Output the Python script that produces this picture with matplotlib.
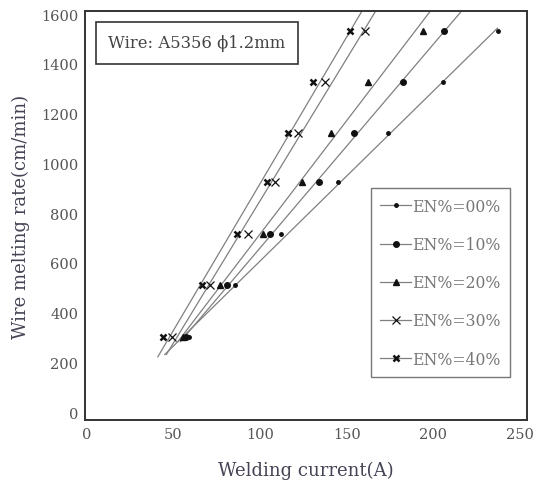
import numpy as np
import matplotlib
matplotlib.use("Agg")
import matplotlib.pyplot as plt

plt.rcParams['font.family'] = ['DejaVu Serif']

# Wire melting rate levels (cm/min)
rate = [300, 510, 715, 925, 1120, 1325, 1530]

# Welding current (A) for each EN ratio
cur_en00 = [59, 85.5, 112, 145, 174, 205.8, 237]
cur_en10 = [57, 81, 106, 134, 154, 182.7, 206]
cur_en20 = [55.5, 77, 101.7, 124, 141, 162, 194]
cur_en30 = [49, 71, 93, 108.7, 122, 137.6, 160.7]
cur_en40 = [44, 66.5, 86.7, 104, 116, 130.6, 152]

labels = ["EN%=00%", "EN%=10%", "EN%=20%", "EN%=30%", "EN%=40%"]
series = [cur_en00, cur_en10, cur_en20, cur_en30, cur_en40]
markers = ['.', 'o', '^', 'x', 'x']
msizes = [5, 4, 4.5, 6, 4]
mews = [1, 1, 1, 0.9, 1.8]

fig = plt.figure(figsize=(5.36, 4.81), dpi=100)
ax = fig.add_axes([0.1586, 0.1247, 0.8246, 0.8503])

line_col = '#808080'
for i, (xs, lab) in enumerate(zip(series, labels)):
    xs = np.array(xs, float)
    ys = np.array(rate, float)
    k, b = np.polyfit(xs, ys, 1)
    x0 = 45 if i == 0 else xs[0] - 3
    x1 = xs[-1] if i == 0 else (1650 - b) / k
    ax.plot([x0, x1], [k * x0 + b, k * x1 + b], color=line_col, lw=0.9, zorder=2)
    ax.plot(xs, ys, linestyle='none', marker=markers[i], ms=msizes[i],
            mew=mews[i], color='#111111', zorder=3)
    ax.plot([], [], color=line_col, lw=0.9, marker=markers[i], ms=msizes[i],
            mew=mews[i], mec='#111111', mfc='#111111', label=lab)

ax.set_xlim(-1, 254)
ax.set_ylim(-32, 1612)
ax.set_xticks([0, 50, 100, 150, 200, 250])
ax.set_yticks(range(0, 1601, 200))
ax.tick_params(length=0, labelsize=10.5, labelcolor='#555555', pad=5)
for s in ax.spines.values():
    s.set_color('#333333')
    s.set_linewidth(1.4)

ax.set_xlabel("Welding current(A)", fontsize=13, color='#444455', labelpad=14)
ax.set_ylabel("Wire melting rate(cm/min)", fontsize=13, color='#444455', labelpad=8)

ax.text(0.052, 0.922, "Wire: A5356 \u03d51.2mm", transform=ax.transAxes,
        fontsize=11.8, color='#444444', va='center', ha='left',
        bbox=dict(boxstyle='square,pad=0.75', fc='white', ec='#333333', lw=1.2))

leg = ax.legend(loc='lower right', bbox_to_anchor=(0.962, 0.105), fontsize=11.3,
                labelspacing=1.35, handlelength=2.0, handletextpad=0.05,
                frameon=True, fancybox=False, borderpad=0.6, borderaxespad=0)
leg.get_frame().set_edgecolor('#555555')
leg.get_frame().set_linewidth(1.0)
for t in leg.get_texts():
    t.set_color('#777777')

fig.savefig("out.png", dpi=100)
